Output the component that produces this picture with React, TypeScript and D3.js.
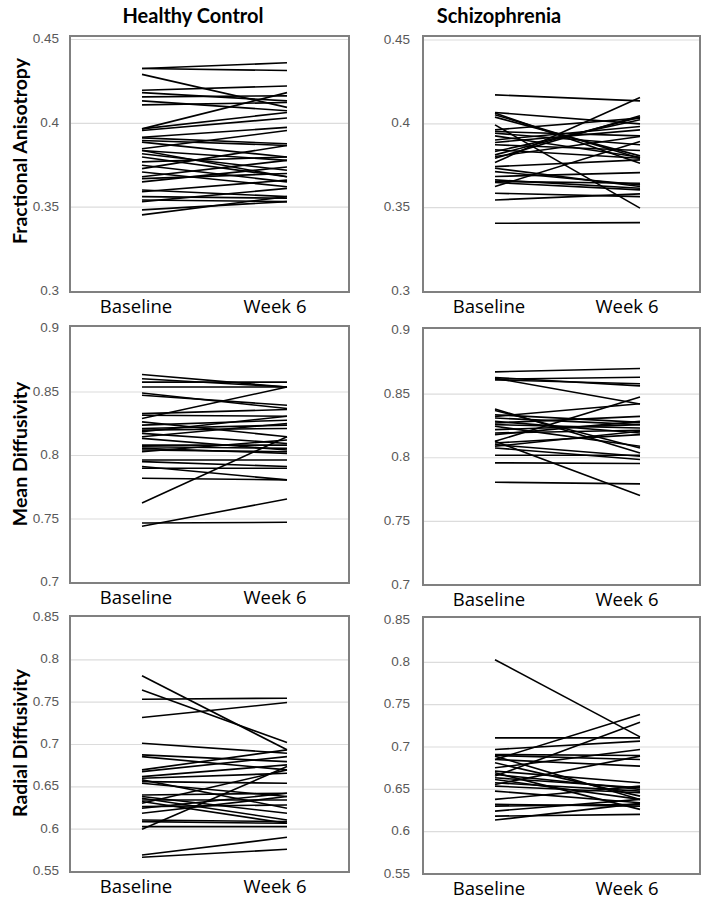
import React from "react";
import * as d3 from "d3";

// ---------- DATA ----------
const categories = ["Baseline", "Week 6"];
const groupTitles = ["Healthy Control", "Schizophrenia"];
const rowTitles = ["Fractional Anisotropy", "Mean Diffusivity", "Radial Diffusivity"];

const faTicks = [0.3, 0.35, 0.4, 0.45];
const mdTicks = [0.7, 0.75, 0.8, 0.85, 0.9];
const rdTicks = [0.55, 0.6, 0.65, 0.7, 0.75, 0.8, 0.85];

const hcFA_baseline = [0.4327, 0.4327, 0.4292, 0.4197, 0.4183, 0.4158, 0.4134, 0.411, 0.3967, 0.3967, 0.3957, 0.3917, 0.3913, 0.3898, 0.3888, 0.3848, 0.3838, 0.3819, 0.3799, 0.377, 0.375, 0.373, 0.371, 0.3681, 0.367, 0.3651, 0.3602, 0.3592, 0.3563, 0.3543, 0.3533, 0.3484, 0.3454, 0.3838];
const hcFA_week6 = [0.4361, 0.4315, 0.4095, 0.4223, 0.4134, 0.4164, 0.4075, 0.4124, 0.4183, 0.4065, 0.4032, 0.3976, 0.3878, 0.3868, 0.3799, 0.3957, 0.3779, 0.372, 0.3681, 0.3799, 0.3651, 0.3868, 0.3622, 0.3779, 0.3701, 0.374, 0.3563, 0.3661, 0.3553, 0.3533, 0.3612, 0.3533, 0.3563, 0.3681];

const szFA_baseline = [0.4173, 0.4068, 0.4064, 0.4054, 0.404, 0.3994, 0.3964, 0.3954, 0.3944, 0.3928, 0.3904, 0.3889, 0.3875, 0.3845, 0.3835, 0.3815, 0.3795, 0.3769, 0.3805, 0.3745, 0.3735, 0.3715, 0.3686, 0.3666, 0.3656, 0.365, 0.3626, 0.3586, 0.3546, 0.3407];
const szFA_week6 = [0.4137, 0.4, 0.3765, 0.3795, 0.3809, 0.3497, 0.4034, 0.3928, 0.3875, 0.3801, 0.3984, 0.3964, 0.3841, 0.3795, 0.4024, 0.404, 0.4048, 0.4157, 0.3924, 0.3785, 0.3626, 0.3636, 0.3709, 0.3616, 0.3646, 0.3606, 0.3895, 0.3566, 0.3582, 0.3411];

const hcMD_baseline = [0.8638, 0.8604, 0.8578, 0.8539, 0.8492, 0.8474, 0.833, 0.8317, 0.8291, 0.8265, 0.8239, 0.8213, 0.82, 0.8187, 0.8174, 0.8148, 0.8135, 0.8082, 0.8069, 0.8056, 0.8043, 0.803, 0.7965, 0.7952, 0.7913, 0.79, 0.7821, 0.7626, 0.7469, 0.7443];
const hcMD_week6 = [0.8539, 0.8539, 0.8578, 0.8539, 0.837, 0.8396, 0.8362, 0.8309, 0.8539, 0.8148, 0.8278, 0.8239, 0.8213, 0.8309, 0.8095, 0.8252, 0.8043, 0.8082, 0.8056, 0.8017, 0.803, 0.8122, 0.7965, 0.7913, 0.7808, 0.79, 0.7808, 0.8148, 0.7474, 0.7657];

const szMD_baseline = [0.8675, 0.8631, 0.8625, 0.8617, 0.8612, 0.8383, 0.8372, 0.8338, 0.8325, 0.8312, 0.8286, 0.8273, 0.826, 0.8247, 0.8221, 0.8195, 0.8182, 0.8129, 0.8116, 0.8103, 0.809, 0.8077, 0.8129, 0.802, 0.796, 0.7808];
const szMD_week6 = [0.8701, 0.8565, 0.8422, 0.8633, 0.8581, 0.8038, 0.8077, 0.8278, 0.8424, 0.826, 0.8195, 0.8325, 0.8234, 0.809, 0.826, 0.8216, 0.8286, 0.8477, 0.8182, 0.8012, 0.8208, 0.7986, 0.7704, 0.802, 0.7955, 0.7795];

const hcRD_baseline = [0.7811, 0.7645, 0.7535, 0.7318, 0.7015, 0.6877, 0.6857, 0.67, 0.668, 0.6621, 0.6601, 0.6582, 0.6562, 0.6542, 0.6404, 0.6385, 0.6365, 0.6345, 0.6326, 0.6306, 0.6266, 0.6247, 0.6188, 0.6109, 0.6089, 0.603, 0.5998, 0.5695, 0.5668];
const hcRD_week6 = [0.6937, 0.7023, 0.7547, 0.7496, 0.6897, 0.6798, 0.67, 0.6937, 0.6857, 0.6759, 0.666, 0.6247, 0.6542, 0.6385, 0.6424, 0.6188, 0.6109, 0.6345, 0.6069, 0.67, 0.6286, 0.6424, 0.6385, 0.6089, 0.6069, 0.603, 0.6739, 0.5904, 0.5762];

const szRD_baseline = [0.8031, 0.7108, 0.697, 0.6852, 0.6656, 0.6911, 0.69, 0.6892, 0.6852, 0.6813, 0.6754, 0.6715, 0.6695, 0.6676, 0.6636, 0.6617, 0.6577, 0.6558, 0.6538, 0.6479, 0.6381, 0.6322, 0.6302, 0.6243, 0.6184, 0.6137];
const szRD_week6 = [0.712, 0.7108, 0.7069, 0.7383, 0.7293, 0.69, 0.6852, 0.6381, 0.6774, 0.642, 0.697, 0.6577, 0.6263, 0.6499, 0.6518, 0.6381, 0.6479, 0.6892, 0.6459, 0.6342, 0.6538, 0.6302, 0.6322, 0.6381, 0.6204, 0.6334];

// ---------- LAYOUT ----------
const cols = [
  { frameL: 70, frameR: 349, lineL: 142, lineR: 287, labL: 136, labR: 275, tickX: 59 },
  { frameL: 423, frameR: 700, lineL: 495, lineR: 640, labL: 489, labR: 627, tickX: 410 },
];

const panels = [
  { row: 0, col: 0, base: hcFA_baseline, wk: hcFA_week6, ticks: faTicks, frameT: 36, frameB: 292, yMax: 39.5, yMin: 291 },
  { row: 0, col: 1, base: szFA_baseline, wk: szFA_week6, ticks: faTicks, frameT: 36, frameB: 292, yMax: 40, yMin: 291.5 },
  { row: 1, col: 0, base: hcMD_baseline, wk: hcMD_week6, ticks: mdTicks, frameT: 326, frameB: 583, yMax: 328.5, yMin: 582.5 },
  { row: 1, col: 1, base: szMD_baseline, wk: szMD_week6, ticks: mdTicks, frameT: 328, frameB: 585, yMax: 330.5, yMin: 585 },
  { row: 2, col: 0, base: hcRD_baseline, wk: hcRD_week6, ticks: rdTicks, frameT: 616, frameB: 872, yMax: 617.5, yMin: 871.5 },
  { row: 2, col: 1, base: szRD_baseline, wk: szRD_week6, ticks: rdTicks, frameT: 617, frameB: 874, yMax: 620, yMin: 874 },
];

const rowTitleY = [151, 454, 743];
const groupTitleX = [193, 499];

const LABEL_FONT = "'Open Sans', 'Noto Sans', sans-serif";
const TITLE_FONT = "Lato, 'Open Sans', sans-serif";
const TICK_FONT = "'Liberation Sans', Arial, sans-serif";

function Panel({ p }) {
  const c = cols[p.col];
  const ext = d3.extent(p.ticks);
  const y = d3.scaleLinear().domain(ext).range([p.yMin, p.yMax]);
  const x = d3.scalePoint().domain(categories).range([c.lineL, c.lineR]);
  const xl = d3.scalePoint().domain(categories).range([c.labL, c.labR]);
  const line = d3.line().x((d) => x(d[0])).y((d) => y(d[1]));
  const pairs = p.base.map((b, i) => [
    [categories[0], b],
    [categories[1], p.wk[i]],
  ]);
  const fmt = (v) => String(+v.toFixed(2));
  return (
    <g>
      {p.ticks.map((t) => {
        const yy = y(t);
        const inside = yy > p.frameT + 3 && yy < p.frameB - 3;
        return (
          <g key={t}>
            {inside && (
              <line x1={c.frameL} x2={c.frameR} y1={yy} y2={yy} stroke="#dcdcdc" strokeWidth={1.2} />
            )}
            <text x={c.tickX} y={yy} textAnchor="end" dominantBaseline="middle" fontFamily={TICK_FONT} fontSize={13.5} fill="#595959">
              {fmt(t)}
            </text>
          </g>
        );
      })}
      {pairs.map((d, i) => (
        <path key={i} d={line(d)} fill="none" stroke="#000" strokeWidth={1.6} />
      ))}
      <rect x={c.frameL} y={p.frameT} width={c.frameR - c.frameL} height={p.frameB - p.frameT} fill="none" stroke="#808080" strokeWidth={2} />
      {categories.map((cat) => (
        <text key={cat} x={xl(cat)} y={p.frameB + 21} textAnchor="middle" fontFamily={LABEL_FONT} fontSize={18.5} fill="#000">
          {cat}
        </text>
      ))}
    </g>
  );
}

export default function App() {
  return (
    <svg width={710} height={900} style={{ display: "block", position: "absolute", left: 0, top: 0, background: "#fff" }}>
      <rect x={0} y={0} width={710} height={900} fill="#fff" />
      {groupTitles.map((t, i) => (
        <text key={t} x={groupTitleX[i]} y={23} textAnchor="middle" fontFamily={TITLE_FONT} fontWeight="bold" fontSize={20} fill="#000">
          {t}
        </text>
      ))}
      {rowTitles.map((t, i) => (
        <text key={t} transform={`translate(27,${rowTitleY[i]}) rotate(-90)`} textAnchor="middle" fontFamily={TITLE_FONT} fontWeight="bold" fontSize={19.5} fill="#000">
          {t}
        </text>
      ))}
      {panels.map((p, i) => (
        <Panel key={i} p={p} />
      ))}
    </svg>
  );
}
